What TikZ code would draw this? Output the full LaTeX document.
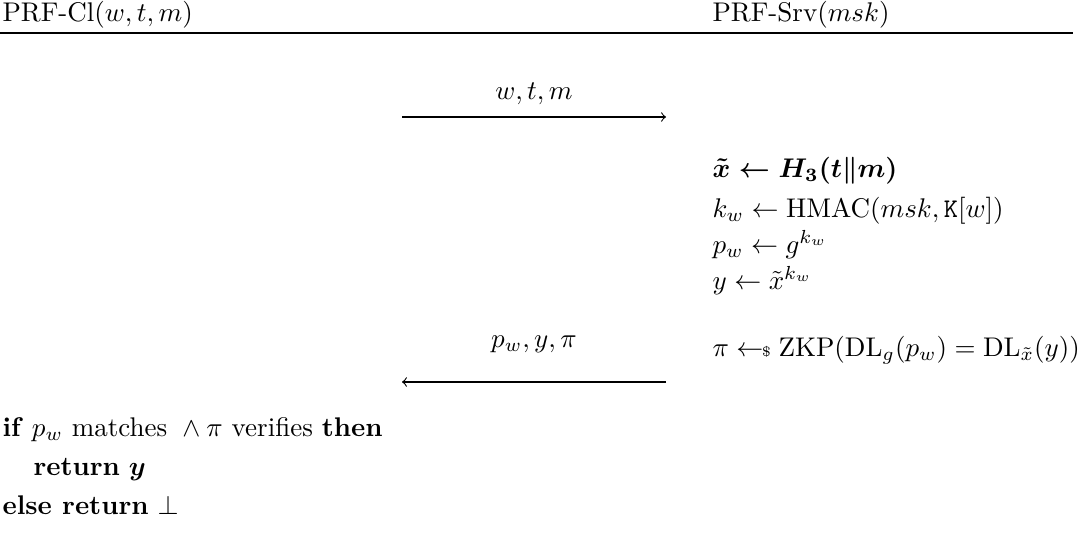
\documentclass[tikz,border=0pt]{standalone}
\usepackage{amsmath}
\begin{document}
\begin{tikzpicture}[x=0.37037pt,y=-0.37037pt,
  txt/.style={inner sep=0pt,anchor=base west},
  msg/.style={inner sep=0pt,anchor=base},
  arr/.style={->,line width=0.4pt},
  rule/.style={line width=0.4pt}]
\useasboundingbox (0,0) rectangle (1080,545);
% headers
\node[txt] (cl) at (2,22) {PRF-Cl$(w,t,m)$};
\node[txt] (srv) at (712,22) {PRF-Srv$(msk)$};
\coordinate (rl) at (0,33);
\coordinate (rr) at (1073,33);
\draw[rule] (rl) -- (rr);
% first message
\node[msg] (m1) at (534,100) {$w,t,m$};
\coordinate (a1s) at (402,117);
\coordinate (a1e) at (666,117);
\draw[arr] (a1s) -- (a1e);
% server computations
\node[txt] (s1) at (712,177) {$\boldsymbol{\tilde{x} \leftarrow H_3(t\|m)}$};
\node[txt] (s2) at (712,217) {$k_w \leftarrow \mathrm{HMAC}(msk,\mathtt{K}[w])$};
\node[txt] (s3) at (712,253) {$p_w \leftarrow g^{k_w}$};
\node[txt] (s4) at (712,289) {$y \leftarrow \tilde{x}^{k_w}$};
\node[txt] (s5) at (712,356) {$\pi \mathrel{\leftarrow\!\!\mbox{\tiny\$}}\mathrm{ZKP}(\mathrm{DL}_g(p_w)=\mathrm{DL}_{\tilde{x}}(y))$};
% second message
\node[msg] (m2) at (534,347) {$p_w,y,\pi$};
\coordinate (a2s) at (666,382);
\coordinate (a2e) at (402,382);
\draw[arr] (a2s) -- (a2e);
% client verification
\node[txt] (c1) at (2,436) {\textbf{if} $p_w$ matches ${}\wedge\pi$ verifies \textbf{then}};
\node[txt] (c2) at (33,475) {\textbf{return} $\boldsymbol{y}$};
\node[txt] (c3) at (2,514) {\textbf{else return} $\bot$};
\end{tikzpicture}
\end{document}
